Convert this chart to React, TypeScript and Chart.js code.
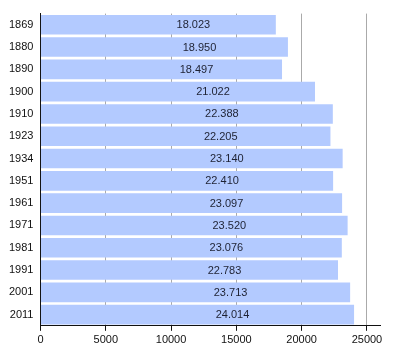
import React, { useEffect, useRef } from "react";
import { Chart, registerables } from "chart.js";

Chart.register(...registerables);

const years = ["1869", "1880", "1890", "1900", "1910", "1923", "1934", "1951", "1961", "1971", "1981", "1991", "2001", "2011"];
const population = [18023, 18950, 18497, 21022, 22388, 22205, 23140, 22410, 23097, 23520, 23076, 22783, 23713, 24014];
const xTicks = [0, 5000, 10000, 15000, 20000, 25000];

const fmt = (v: number) => {
  const s = String(Math.round(v));
  return s.replace(/\B(?=(\d{3})+(?!\d))/g, ".");
};

const FONT = "'Liberation Sans', Arial, sans-serif";

const labelPlugin = {
  id: "barLabels",
  afterDatasetsDraw(chart: any) {
    const ctx = chart.ctx;
    const meta = chart.getDatasetMeta(0);
    ctx.save();
    ctx.font = `11px ${FONT}`;
    ctx.fillStyle = "#1e2233";
    ctx.textAlign = "center";
    ctx.textBaseline = "middle";
    meta.data.forEach((bar: any, i: number) => {
      const cx = (bar.x + bar.base) / 2 + 35;
      ctx.fillText(fmt(population[i]), cx, bar.y + 0.5);
    });
    ctx.restore();
  },
};

export default function App() {
  const ref = useRef<HTMLCanvasElement>(null);
  useEffect(() => {
    if (!ref.current) return;
    const chart = new Chart(ref.current, {
      type: "bar",
      data: {
        labels: years,
        datasets: [
          {
            data: population,
            backgroundColor: "#b3caff",
            borderWidth: 0,
            barPercentage: 0.88,
            categoryPercentage: 1,
          },
        ],
      },
      options: {
        indexAxis: "y",
        animation: false,
        responsive: false,
        maintainAspectRatio: false,
        layout: { padding: { top: 9, right: 20, left: 2, bottom: 10 } },
        plugins: { legend: { display: false }, tooltip: { enabled: false } },
        scales: {
          x: {
            min: 0,
            max: 26000,
            afterBuildTicks: (axis: any) => {
              axis.ticks = xTicks.map((v) => ({ value: v }));
            },
            ticks: {
              font: { family: FONT, size: 11 },
              color: "#111",
              padding: 3,
              maxRotation: 0,
              callback: (v: any) => String(v),
            },
            grid: { color: "#aaaaaa", tickColor: "#111", tickLength: 5, lineWidth: 1 },
            border: { display: true, color: "#111", width: 1 },
          },
          y: {
            ticks: { font: { family: FONT, size: 11 }, color: "#111", padding: 7 },
            grid: { display: false, drawTicks: false },
            border: { display: true, color: "#111", width: 1 },
          },
        },
      },
      plugins: [labelPlugin],
    });
    return () => chart.destroy();
  }, []);
  return (
    <div style={{ position: "fixed", left: 0, top: 0, width: 400, height: 360, background: "#fff" }}>
      <canvas ref={ref} width={400} height={360} style={{ width: 400, height: 360, display: "block" }} />
    </div>
  );
}
